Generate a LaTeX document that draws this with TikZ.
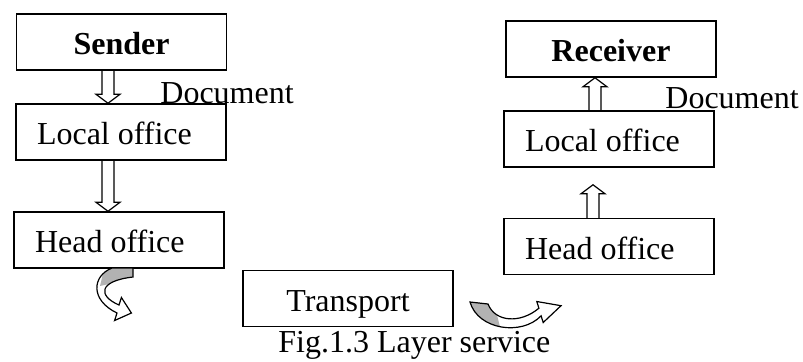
\documentclass[tikz,border=0pt]{standalone}
\usepackage{fontspec}
\setmainfont{Liberation Serif}
\usetikzlibrary{calc}
\tikzset{
  box/.style={draw,line width=0.75pt,minimum width=105pt,minimum height=28pt,inner sep=0pt,text height=12.5pt,text depth=0pt},
  padbox/.style={box,text width=84pt,align=flush left,inner xsep=10.5pt},
  lbl/.style={anchor=base west,inner sep=0pt},
  blockarr/.style={line width=0.6pt,to path={let \p1=(\tikztostart),\p2=(\tikztotarget),\n1={(\y2>\y1)?1:-1} in
    (\x1-3pt,\y1) -- (\x1-3pt,\y2-\n1*4.5pt) -- (\x1-6pt,\y2-\n1*4.5pt) -- (\x1,\y2)
    -- (\x1+6pt,\y2-\n1*4.5pt) -- (\x1+3pt,\y2-\n1*4.5pt) -- (\x1+3pt,\y1)}},
  curl/.style={line width=0.6pt}
}
\begin{document}
\begin{tikzpicture}[x=0.5pt,y=-0.5pt,font=\fontsize{16}{19}\selectfont]
\useasboundingbox (0,0) rectangle (803,361);
\foreach \nm/\st/\xx/\yy/\lab in {sender/box/121.5/42/\textbf{Sender},localA/padbox/121/132/Local office,headA/padbox/119/240/Head office,
  transport/box/348/298.5/Transport,receiver/box/611/49/\textbf{Receiver},localB/padbox/609/139/Local office,headB/padbox/609/246.5/Head office}
  {\node[\st] (\nm) at (\xx,\yy) {\lab};}
\node[lbl] (docA) at (160,103) {Document};
\node[lbl] (docB) at (665,108) {Document};
\node[lbl] (caption) at (278,352) {Fig.1.3 Layer service};
\draw[blockarr] ([xshift=-6.75pt]sender.south) to ([xshift=-6.75pt]localA.north);
\draw[blockarr] ([xshift=-6.5pt]localA.south) to ([xshift=-6.5pt]headA.north);
\draw[blockarr] ([xshift=-7pt]localB.north) to ([xshift=-7pt]receiver.south);
\draw[blockarr] ([xshift=-8pt]headB.north) to ([xshift=-8pt,yshift=-8.5pt]localB.south);
\path[save path=\curlA] (112,268) .. controls (92,276) and (90,300) .. (117,313) -- (114.6,320.5) -- (131.4,313)
  -- (121.4,297.5) -- (119,305) .. controls (98,296) and (98,281) .. (133,277) -- (133,268) -- cycle;
\path[save path=\curlB] (470,302) .. controls (478,330) and (522,336) .. (541.1,315.8) -- (543.2,322.5) -- (561,305.7)
  -- (536.8,301.5) -- (538.9,308.2) .. controls (520,324) and (495,322) .. (488,304) -- cycle;
\begin{scope}
\clip (105,265) -- (136,265) -- (136,278) -- (100,286) -- cycle;
\fill[gray!60,use path=\curlA];
\end{scope}
\begin{scope}
\clip (465,295) -- (492,295) -- (502,335) -- (465,335) -- cycle;
\fill[gray!60,use path=\curlB];
\end{scope}
\draw[curl,use path=\curlA];
\draw[curl,use path=\curlB];
\end{tikzpicture}
\end{document}
